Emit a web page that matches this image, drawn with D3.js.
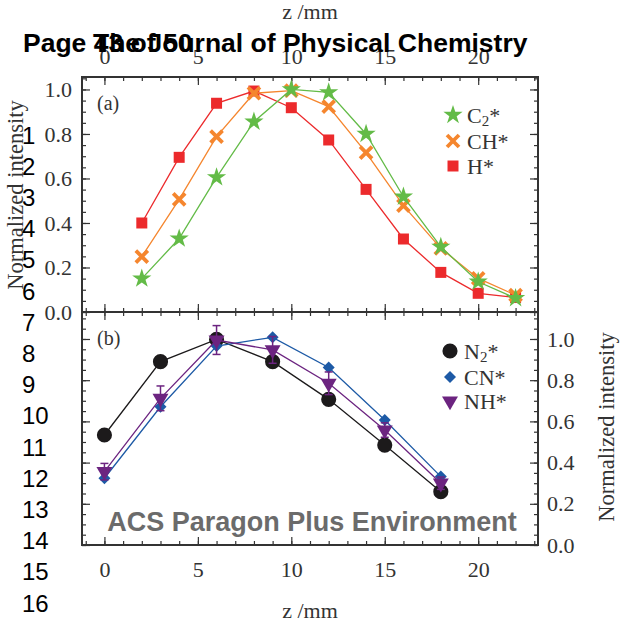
<!DOCTYPE html>
<html>
<head>
<meta charset="UTF-8">
<script src="https://d3js.org/d3.v7.min.js"></script>
<style>
  body { margin: 0; background: #fff; }
  svg { display: block; }
  .tick text { font-family: "Liberation Serif", "Times New Roman", serif; font-size: 22px; fill: #333; }
  .tick line { stroke: #333; stroke-width: 1.2; }
  .domain { display: none; }
  .lbl { font-family: "Liberation Serif", "Times New Roman", serif; fill: #333; }
  .page { font-family: "Liberation Sans", Arial, sans-serif; fill: #000; }
</style>
</head>
<body>
<svg id="chart" width="624" height="624"></svg>
<script>
// panel (a): z positions and normalized intensities
const zA = [2, 4, 6, 8, 10, 12, 14, 16, 18, 20, 22];
const c2 = [0.15, 0.33, 0.605, 0.855, 1.0, 0.987, 0.80, 0.518, 0.293, 0.136, 0.062];
const ch = [0.249, 0.506, 0.788, 0.983, 0.995, 0.923, 0.716, 0.478, 0.286, 0.151, 0.076];
const hh = [0.40, 0.695, 0.938, 0.993, 0.918, 0.773, 0.551, 0.328, 0.178, 0.084, 0.065];

// panel (b)
const zB = [0, 3, 6, 9, 12, 15, 18];
const n2 = [0.534, 0.89, 0.998, 0.89, 0.707, 0.485, 0.259];
const cn = [0.324, 0.671, 0.966, 1.008, 0.862, 0.607, 0.332];
const nh = [0.356, 0.712, 0.995, 0.947, 0.785, 0.558, 0.30];
const nhErr = [0.04, 0.06, 0.07, 0.065, 0.055, 0.035, 0.03];

const xTicks = [0, 5, 10, 15, 20];
const yTicks = [0, 0.2, 0.4, 0.6, 0.8, 1.0];
const lineNums = d3.range(1, 17);

const svg = d3.select("#chart");

const x = d3.scaleLinear().domain([-1.2, 23.2]).range([82, 538]);
const yA = d3.scaleLinear().domain([0, 1.056]).range([312, 77]);
const yB = d3.scaleLinear().domain([0, 1.131]).range([545, 312]);

const minorX = d3.range(-1, 24, 1);
const minorY = d3.range(0, 1.131, 0.05);

function tickAxis(axisFn, scale, vals, size, fmt, pad, tx, ty, minor) {
  const g = svg.append("g").attr("transform", `translate(${tx},${ty})`);
  g.call(axisFn(scale).tickValues(minor).tickSize(size / 2).tickFormat(""));
  const g2 = svg.append("g").attr("transform", `translate(${tx},${ty})`);
  g2.call(axisFn(scale).tickValues(vals).tickSize(size).tickPadding(pad).tickFormat(fmt));
  return g2;
}

const f1 = d3.format(".1f");
const none = () => "";

// panel (a) axes
tickAxis(d3.axisTop, x, xTicks, -8, d3.format("d"), 13, 0, 77, minorX);
tickAxis(d3.axisBottom, x, xTicks, -8, none, 0, 0, 312, minorX);
tickAxis(d3.axisLeft, yA, yTicks, -8, f1, 10, 82, 0, minorY.filter(v => v <= 1.056));
tickAxis(d3.axisRight, yA, yTicks, -8, none, 0, 538, 0, minorY.filter(v => v <= 1.056));

// panel (b) axes
tickAxis(d3.axisTop, x, xTicks, -8, none, 0, 0, 312, minorX);
tickAxis(d3.axisBottom, x, xTicks, -8, d3.format("d"), 16, 0, 545, minorX);
tickAxis(d3.axisLeft, yB, yTicks, -8, none, 0, 82, 0, minorY);
tickAxis(d3.axisRight, yB, yTicks, -8, f1, 9, 538, 0, minorY);

// frames
svg.append("rect").attr("x", 82).attr("y", 77).attr("width", 456).attr("height", 235)
  .attr("fill", "none").attr("stroke", "#333").attr("stroke-width", 2);
svg.append("rect").attr("x", 82).attr("y", 312).attr("width", 456).attr("height", 233)
  .attr("fill", "none").attr("stroke", "#333").attr("stroke-width", 2);

// axis titles
svg.append("text").attr("class", "lbl").attr("x", 310).attr("y", 19)
  .attr("text-anchor", "middle").attr("font-size", 22).text("z /mm");
svg.append("text").attr("class", "lbl").attr("x", 310).attr("y", 618)
  .attr("text-anchor", "middle").attr("font-size", 22).text("z /mm");
svg.append("text").attr("class", "lbl").attr("font-size", 22.5)
  .attr("transform", "translate(23,195) rotate(-90)").attr("text-anchor", "middle")
  .text("Normalized intensity");
svg.append("text").attr("class", "lbl").attr("font-size", 22.5)
  .attr("transform", "translate(614,427) rotate(-90)").attr("text-anchor", "middle")
  .text("Normalized intensity");

svg.append("text").attr("class", "lbl").attr("x", 97).attr("y", 110).attr("font-size", 20).text("(a)");
svg.append("text").attr("class", "lbl").attr("x", 97).attr("y", 345).attr("font-size", 20).text("(b)");

// series drawing
function series(g, xs, ys, yScale, color, sym, opts) {
  const line = d3.line().x((d, i) => x(xs[i])).y(d => yScale(d));
  g.append("path").datum(ys).attr("d", line)
    .attr("fill", "none").attr("stroke", color).attr("stroke-width", 1.3);
  g.selectAll(null).data(ys).enter().append("path")
    .attr("transform", (d, i) => `translate(${x(xs[i])},${yScale(d)}) rotate(${opts.rot || 0})`)
    .attr("d", d3.symbol(sym, opts.size))
    .attr("fill", opts.stroke ? "none" : color)
    .attr("stroke", opts.stroke ? color : "none")
    .attr("stroke-width", opts.stroke || 0);
}

function legendItem(lx, ly, color, sym, opts, label, sub, rest) {
  svg.append("path").attr("transform", `translate(${lx},${ly}) rotate(${opts.rot || 0})`)
    .attr("d", d3.symbol(sym, opts.size))
    .attr("fill", opts.stroke ? "none" : color)
    .attr("stroke", opts.stroke ? color : "none")
    .attr("stroke-width", opts.stroke || 0);
  const t = svg.append("text").attr("class", "lbl").attr("x", lx + 14).attr("y", ly + 8)
    .attr("font-size", 22);
  t.append("tspan").text(label);
  if (sub) {
    t.append("tspan").attr("font-size", 15).attr("dy", 3).text(sub);
    t.append("tspan").attr("dy", -3).text(rest);
  }
}

const red = "#ec2a2c", orange = "#f5862e", green = "#63bb47";
const black = "#1c1a1b", blue = "#1d5aa6", purple = "#6c2480";

const starO = { size: 115 };
const xO = { size: 95, stroke: 3.8 };
const sqO = { size: 121 };
const cirO = { size: 180 };
const diaO = { size: 72, rot: 45 };
const triO = { size: 110, rot: 180 };

const gA = svg.append("g");
series(gA, zA, hh, yA, red, d3.symbolSquare, sqO);
series(gA, zA, ch, yA, orange, d3.symbolX, xO);
series(gA, zA, c2, yA, green, d3.symbolStar, starO);

const gB = svg.append("g");
series(gB, zB, n2, yB, black, d3.symbolCircle, cirO);
series(gB, zB, cn, yB, blue, d3.symbolSquare, diaO);
// error bars on NH*
const eb = gB.append("g").attr("stroke", purple).attr("stroke-width", 1.5);
zB.forEach((z, i) => {
  const cx = x(z), y1 = yB(nh[i] + nhErr[i]), y2 = yB(nh[i] - nhErr[i]);
  eb.append("line").attr("x1", cx).attr("x2", cx).attr("y1", y1).attr("y2", y2);
  eb.append("line").attr("x1", cx - 4).attr("x2", cx + 4).attr("y1", y1).attr("y2", y1);
  eb.append("line").attr("x1", cx - 4).attr("x2", cx + 4).attr("y1", y2).attr("y2", y2);
});
series(gB, zB, nh, yB, purple, d3.symbolTriangle, triO);

// legends
legendItem(453, 115, green, d3.symbolStar, starO, "C", "2", "*");
legendItem(453, 141, orange, d3.symbolX, xO, "CH*");
legendItem(453, 166, red, d3.symbolSquare, sqO, "H*");

legendItem(450, 351, black, d3.symbolCircle, cirO, "N", "2", "*");
legendItem(450, 377, blue, d3.symbolSquare, diaO, "CN*");
legendItem(450, 401, purple, d3.symbolTriangle, triO, "NH*");

// page overlay text
svg.append("text").attr("class", "page").attr("x", 312).attr("y", 531)
  .attr("text-anchor", "middle").attr("font-size", 27).attr("font-weight", "bold")
  .style("fill", "#6b6b6b").text("ACS Paragon Plus Environment");
svg.append("text").attr("class", "page").attr("x", 23).attr("y", 52)
  .attr("font-size", 26.5).attr("font-weight", "bold").text("Page 43 of 50");
svg.append("text").attr("class", "page").attr("x", 93).attr("y", 52)
  .attr("font-size", 26.5).attr("font-weight", "bold").text("The Journal of Physical Chemistry");

svg.selectAll(null).data(lineNums).enter().append("text").attr("class", "page")
  .attr("x", 22).attr("y", d => 135 + (d - 1) * 31.2 + 8.5)
  .attr("font-size", 24).text(d => d);
</script>
</body>
</html>
